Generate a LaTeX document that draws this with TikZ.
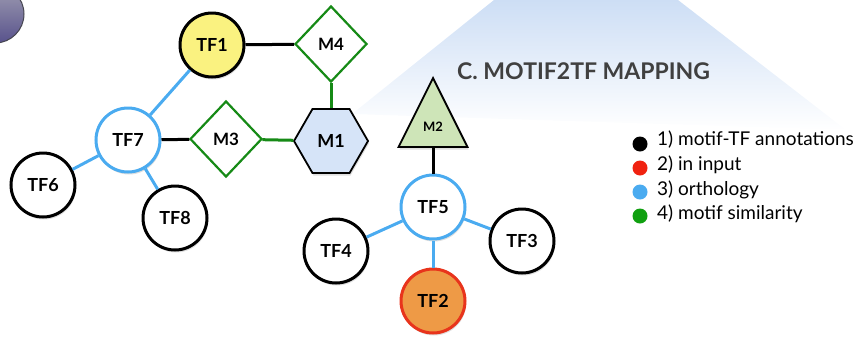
\documentclass[tikz,border=0pt]{standalone}
\usepackage{fontspec}
\setmainfont{Lato}
\usetikzlibrary{shapes.geometric,shadows}
\definecolor{orth}{RGB}{74,171,240}
\definecolor{msim}{RGB}{22,138,22}
\definecolor{tfyellow}{RGB}{250,242,128}
\definecolor{monefill}{RGB}{214,228,248}
\definecolor{mtwofill}{RGB}{206,229,184}
\definecolor{tftwofill}{RGB}{238,154,70}
\definecolor{tftwoborder}{RGB}{232,52,28}
\definecolor{titlegray}{RGB}{64,64,64}
\definecolor{bgblue}{RGB}{205,222,245}
\definecolor{legred}{RGB}{240,34,16}
\definecolor{leggreen}{RGB}{16,160,16}
\tikzset{
  shad/.style={drop shadow={opacity=0.25,shadow xshift=1pt,shadow yshift=-2.5pt}},
  tfnode/.style={circle,draw=black,line width=3pt,fill=white,minimum size=64pt,inner sep=0pt,
    font=\fontsize{18}{18}\selectfont\bfseries,shad},
  motifd/.style={diamond,draw=msim,line width=2.2pt,fill=white,minimum width=72pt,minimum height=76pt,inner sep=0pt,
    font=\fontsize{17}{17}\selectfont\bfseries},
  blueedge/.style={orth,line width=3pt},
  blackedge/.style={black,line width=3pt},
  greenedge/.style={msim,line width=3pt},
  legdot/.style={circle,inner sep=0pt,minimum size=15pt},
  legtext/.style={anchor=west,inner sep=0pt,font=\fontsize{19}{19}\selectfont}
}
\begin{document}
\begin{tikzpicture}[x=1pt,y=-1pt]
\useasboundingbox (0,0) rectangle (859,341);
\clip (0,0) rectangle (859,341);
% background spotlight
\shade[top color=bgblue,bottom color=white] (352,114) -- (494,0) -- (678,0) -- (846,130) -- cycle;
% partial circle top-left
\shade[top color={rgb,255:red,160;green,158;blue,178},bottom color={rgb,255:red,88;green,82;blue,140},draw={rgb,255:red,70;green,70;blue,80},line width=1pt]
  (-5,14) circle (29);
% title
\node[anchor=west,inner sep=0pt,text=titlegray,font=\fontsize{23}{23}\selectfont\bfseries] (title) at (457,71) {C. MOTIF2TF MAPPING};
% nodes
\node[tfnode,fill=tfyellow] (TF1) at (212,45) {TF1};
\node[motifd] (M4) at (331,44) {M4};
\node[regular polygon,regular polygon sides=6,minimum size=74pt,inner sep=0pt,draw=black,line width=1.8pt,fill=monefill,
  font=\fontsize{18}{18}\selectfont\bfseries,shad] (M1) at (331,141) {M1};
\node[tfnode,draw=orth] (TF7) at (128,140) {TF7};
\node[motifd] (M3) at (226,139) {M3};
\node[tfnode] (TF6) at (43,185) {TF6};
\node[tfnode] (TF8) at (175,218) {TF8};
\node[tfnode] (TF4) at (336,251) {TF4};
\node[tfnode,draw=orth] (TF5) at (433,207) {TF5};
\node[tfnode] (TF3) at (522,241) {TF3};
\node[tfnode,fill=tftwofill,draw=tftwoborder] (TF2) at (433,301) {TF2};
% M2 triangle
\draw[line width=1.8pt,fill=mtwofill,line join=miter,shad] (433,78) -- (467.5,147) -- (398.5,147) -- cycle;
\coordinate (M2base) at (433,147);
\node[inner sep=0pt,font=\fontsize{13}{13}\selectfont\bfseries] (M2) at (433,127) {M2};
% edges
\draw[blackedge] (TF1) -- (M4);
\draw[greenedge] (M4) -- (M1);
\draw[blueedge] (TF1) -- (TF7);
\draw[blackedge] (TF7) -- (M3);
\draw[greenedge] (M3) -- (M1);
\draw[blueedge] (TF7) -- (TF6);
\draw[blueedge] (TF7) -- (TF8);
\draw[blackedge] (M2base) -- (TF5);
\draw[blueedge] (TF5) -- (TF4);
\draw[blueedge] (TF5) -- (TF3);
\draw[blueedge] (TF5) -- (TF2);
% legend
\node[legdot,fill=black] (d1) at (640,144) {};
\node[legdot,fill=legred] (d2) at (640,168) {};
\node[legdot,fill=orth] (d3) at (640,192) {};
\node[legdot,fill=leggreen] (d4) at (640,216) {};
\node[legtext] (l1) at (657,140) {1) motif-TF annotations};
\node[legtext] (l2) at (657,165) {2) in input};
\node[legtext] (l3) at (657,190) {3) orthology};
\node[legtext] (l4) at (657,214) {4) motif similarity};
\end{tikzpicture}
\end{document}
